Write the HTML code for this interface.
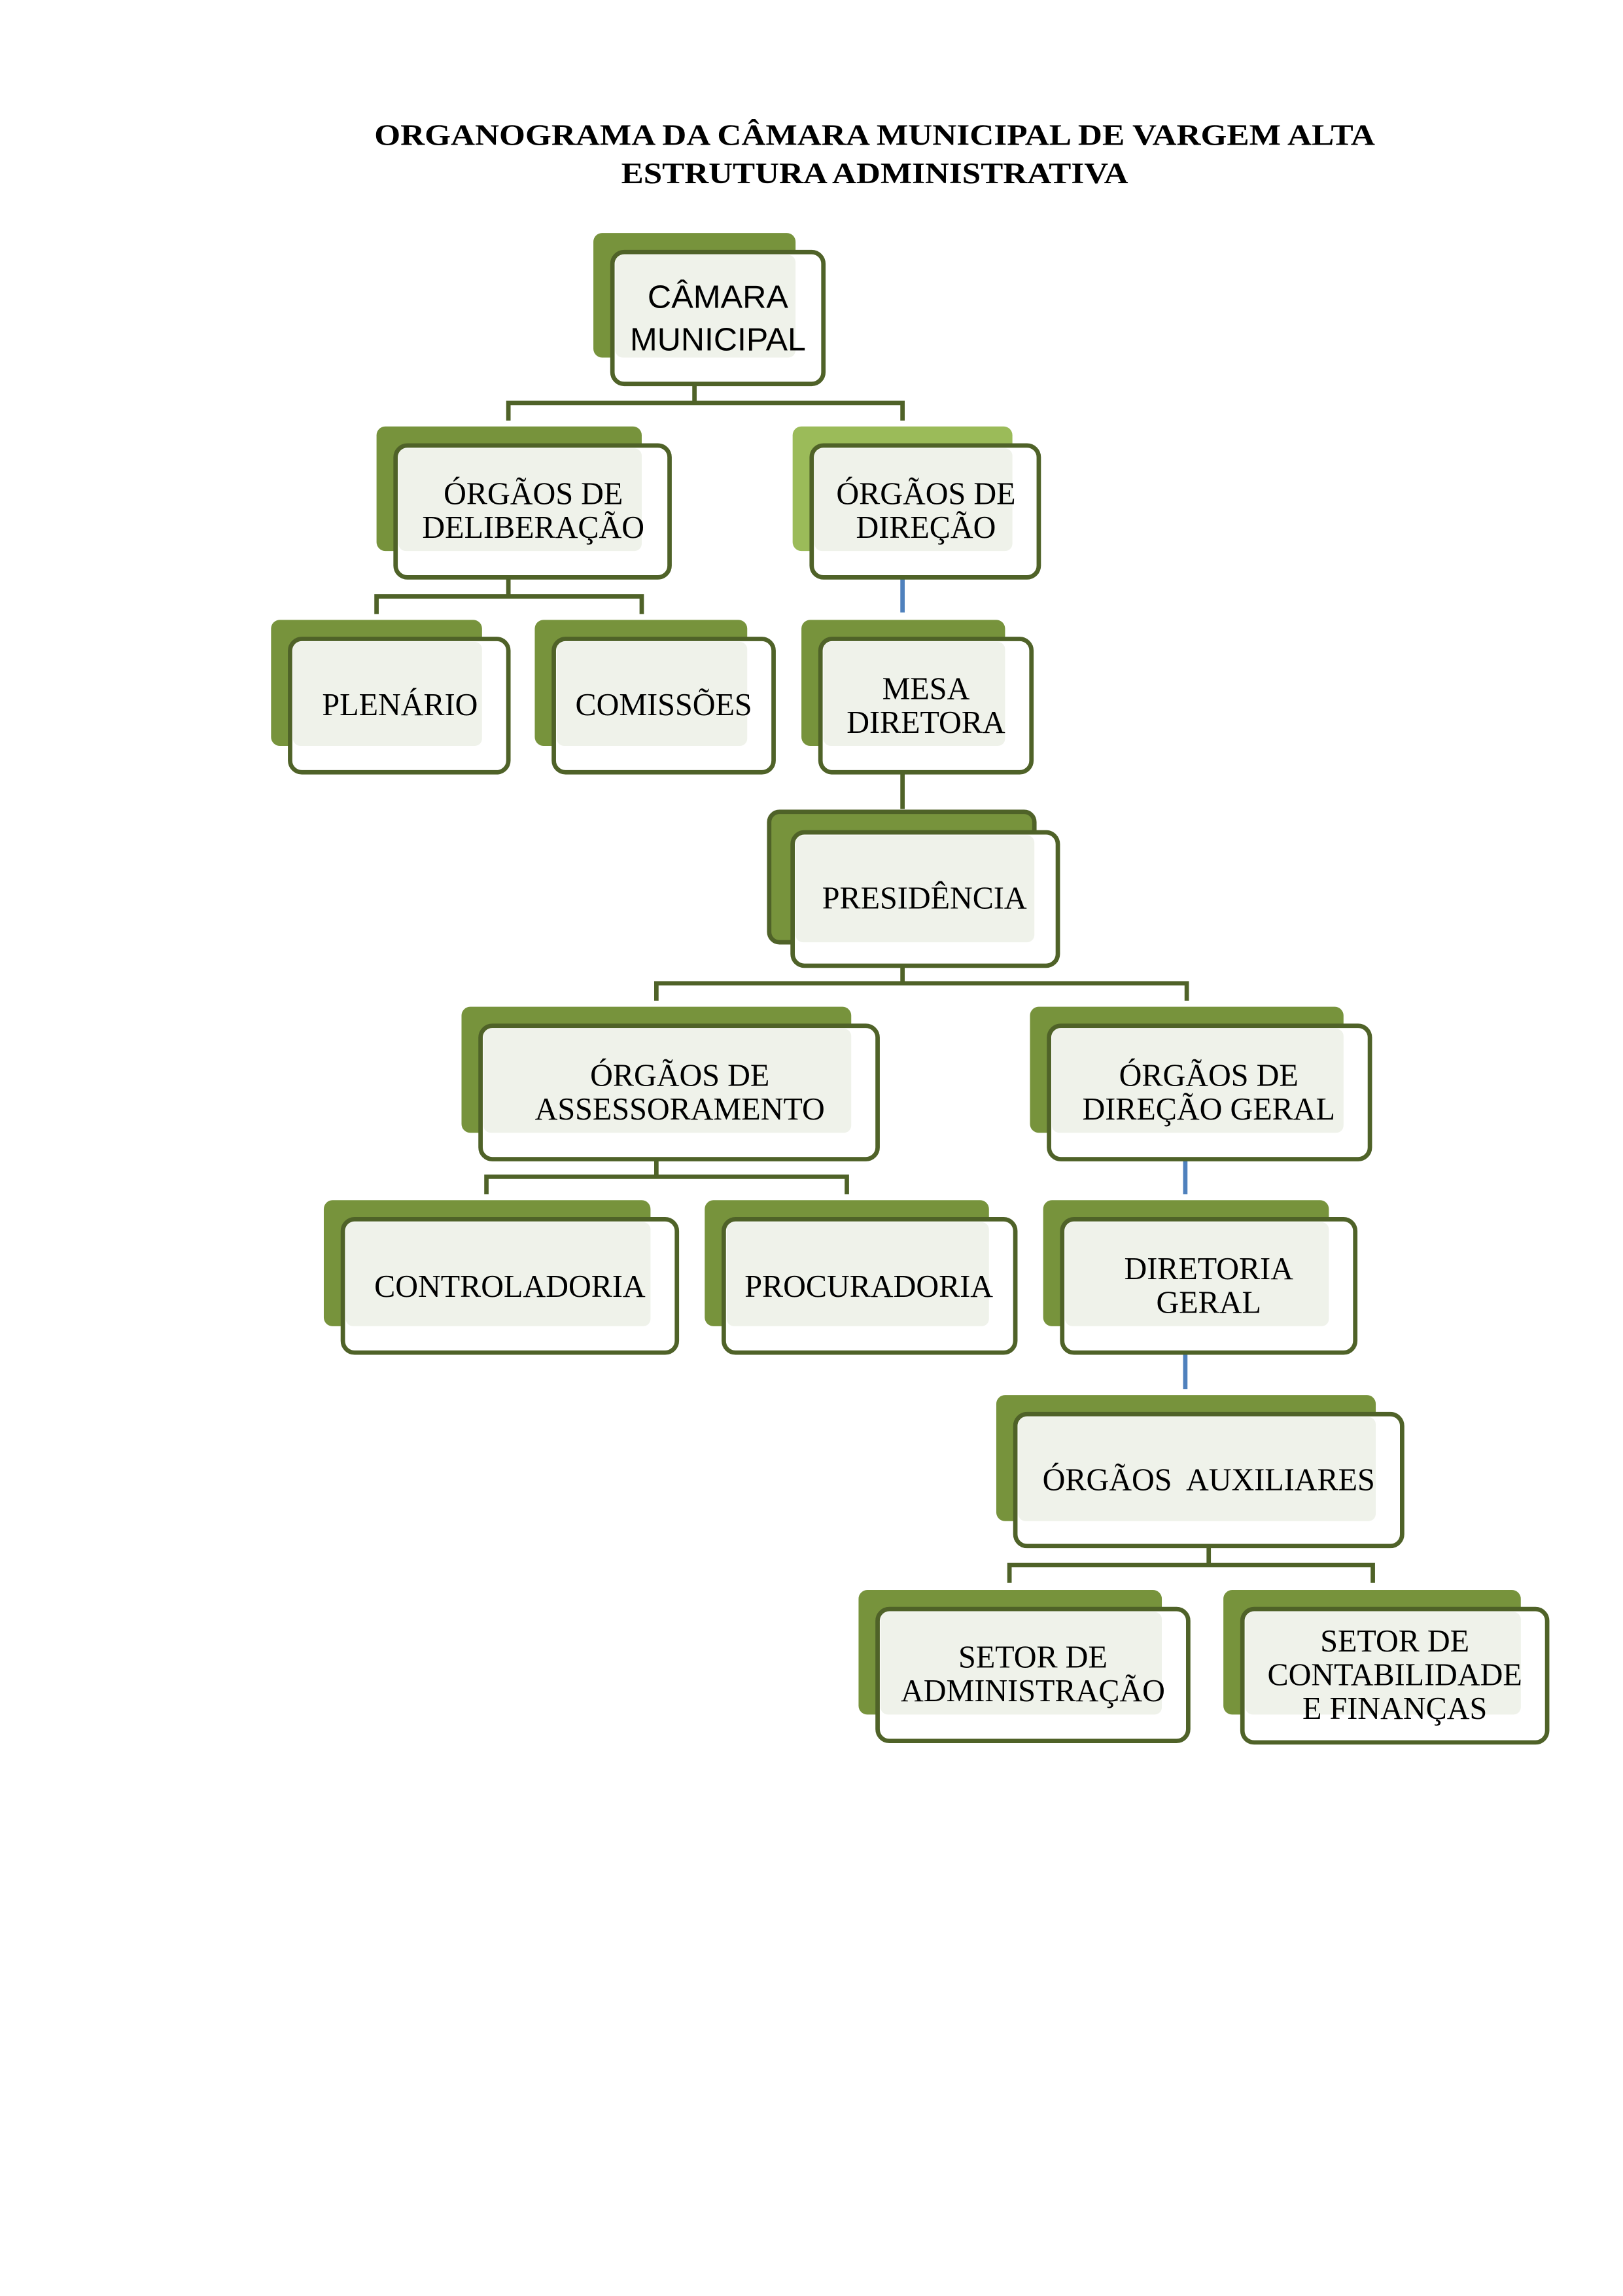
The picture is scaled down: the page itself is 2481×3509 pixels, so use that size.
<!DOCTYPE html>
<html><head><meta charset="utf-8"><style>
html,body{margin:0;padding:0;background:#fff}
svg{display:block}
text{font-family:"Liberation Serif",serif;fill:#000}
</style></head><body>
<svg width="2481" height="3509" viewBox="0 0 1100 1555.8" preserveAspectRatio="none" xmlns="http://www.w3.org/2000/svg">
<g transform="scale(0.993)">
<g text-anchor="middle" font-weight="bold" font-size="20.5">
<text x="597" y="99" textLength="683" lengthAdjust="spacingAndGlyphs">ORGANOGRAMA DA CÂMARA MUNICIPAL DE VARGEM ALTA</text>
<text x="597" y="125" textLength="346" lengthAdjust="spacingAndGlyphs">ESTRUTURA ADMINISTRATIVA</text>
</g>
<g fill="none" stroke="#4f6228" stroke-width="3">
<path d="M474 262V275M347 287V275H616V287"/>
<path d="M347 394V407M257 419V407H438V419"/>
<path d="M616 527V552"/>
<path d="M616 659V671M448 683V671H810V683"/>
<path d="M448 791V803M332 815V803H578V815"/>
<path d="M825 1055V1068M689 1080V1068H937V1080"/>
</g>
<g stroke="#4f81bd" stroke-width="3">
<path d="M616 394V418M809 791V815M809 923V948"/>
</g>
<g stroke-width="3">
<rect x="405" y="159" width="138" height="85" rx="6" fill="#77933c"/>
<rect x="257" y="291" width="181" height="85" rx="6" fill="#77933c"/>
<rect x="541" y="291" width="150" height="85" rx="6" fill="#9bbb59"/>
<rect x="185" y="423" width="144" height="86" rx="6" fill="#77933c"/>
<rect x="365" y="423" width="145" height="86" rx="6" fill="#77933c"/>
<rect x="547" y="423" width="139" height="86" rx="6" fill="#77933c"/>
<rect x="525" y="554" width="181" height="89" rx="7" fill="#77933c" stroke="#4f6228" stroke-width="3"/>
<rect x="315" y="687" width="266" height="86" rx="6" fill="#77933c"/>
<rect x="703" y="687" width="214" height="86" rx="6" fill="#77933c"/>
<rect x="221" y="819" width="223" height="86" rx="6" fill="#77933c"/>
<rect x="481" y="819" width="194" height="86" rx="6" fill="#77933c"/>
<rect x="712" y="819" width="195" height="86" rx="6" fill="#77933c"/>
<rect x="680" y="952" width="259" height="86" rx="6" fill="#77933c"/>
<rect x="586" y="1085" width="207" height="85" rx="6" fill="#77933c"/>
<rect x="835" y="1085" width="203" height="85" rx="6" fill="#77933c"/>
</g>
<g fill="#fff" stroke="#4f6228" stroke-width="3">
<rect x="418" y="172" width="144" height="90" rx="8"/>
<rect x="270" y="304" width="187" height="90" rx="8"/>
<rect x="554" y="304" width="155" height="90" rx="8"/>
<rect x="198" y="436" width="149" height="91" rx="8"/>
<rect x="378" y="436" width="150" height="91" rx="8"/>
<rect x="560" y="436" width="144" height="91" rx="8"/>
<rect x="541" y="568" width="181" height="91" rx="8"/>
<rect x="328" y="700" width="271" height="91" rx="8"/>
<rect x="716" y="700" width="219" height="91" rx="8"/>
<rect x="234" y="832" width="228" height="91" rx="8"/>
<rect x="494" y="832" width="199" height="91" rx="8"/>
<rect x="725" y="832" width="200" height="91" rx="8"/>
<rect x="693" y="965" width="264" height="90" rx="8"/>
<rect x="599" y="1098" width="212" height="90" rx="8"/>
<rect x="848" y="1098" width="208" height="91" rx="8"/>
</g>
<g fill="#eff2ea">
<rect x="420" y="174" width="123" height="70" rx="5"/>
<rect x="272" y="306" width="166" height="70" rx="5"/>
<rect x="556" y="306" width="135" height="70" rx="5"/>
<rect x="200" y="438" width="129" height="71" rx="5"/>
<rect x="380" y="438" width="130" height="71" rx="5"/>
<rect x="562" y="438" width="124" height="71" rx="5"/>
<rect x="543" y="570" width="163" height="73" rx="5"/>
<rect x="330" y="702" width="251" height="71" rx="5"/>
<rect x="718" y="702" width="199" height="71" rx="5"/>
<rect x="236" y="834" width="208" height="71" rx="5"/>
<rect x="496" y="834" width="179" height="71" rx="5"/>
<rect x="727" y="834" width="180" height="71" rx="5"/>
<rect x="695" y="967" width="244" height="71" rx="5"/>
<rect x="601" y="1100" width="192" height="70" rx="5"/>
<rect x="850" y="1100" width="188" height="70" rx="5"/>
</g>
<g text-anchor="middle" font-size="21.5">
<text x="490" y="210" style="font-family:'Liberation Sans',sans-serif" font-size="22" textLength="96" lengthAdjust="spacingAndGlyphs">CÂMARA</text>
<text x="490" y="239" style="font-family:'Liberation Sans',sans-serif" font-size="22" textLength="120" lengthAdjust="spacingAndGlyphs">MUNICIPAL</text>
<text x="364" y="344">ÓRGÃOS DE</text>
<text x="364" y="367">DELIBERAÇÃO</text>
<text x="632" y="344">ÓRGÃOS DE</text>
<text x="632" y="367">DIREÇÃO</text>
<text x="273" y="488">PLENÁRIO</text>
<text x="453" y="488">COMISSÕES</text>
<text x="632" y="477">MESA</text>
<text x="632" y="500">DIRETORA</text>
<text x="631" y="620">PRESIDÊNCIA</text>
<text x="464" y="741">ÓRGÃOS DE</text>
<text x="464" y="764">ASSESSORAMENTO</text>
<text x="825" y="741">ÓRGÃOS DE</text>
<text x="825" y="764">DIREÇÃO GERAL</text>
<text x="348" y="885">CONTROLADORIA</text>
<text x="593" y="885">PROCURADORIA</text>
<text x="825" y="873">DIRETORIA</text>
<text x="825" y="896">GERAL</text>
<text x="825" y="1017" xml:space="preserve">ÓRGÃOS  AUXILIARES</text>
<text x="705" y="1138">SETOR DE</text>
<text x="705" y="1161">ADMINISTRAÇÃO</text>
<text x="952" y="1127">SETOR DE</text>
<text x="952" y="1150">CONTABILIDADE</text>
<text x="952" y="1173">E FINANÇAS</text>
</g>
</g>
</svg>
</body></html>
